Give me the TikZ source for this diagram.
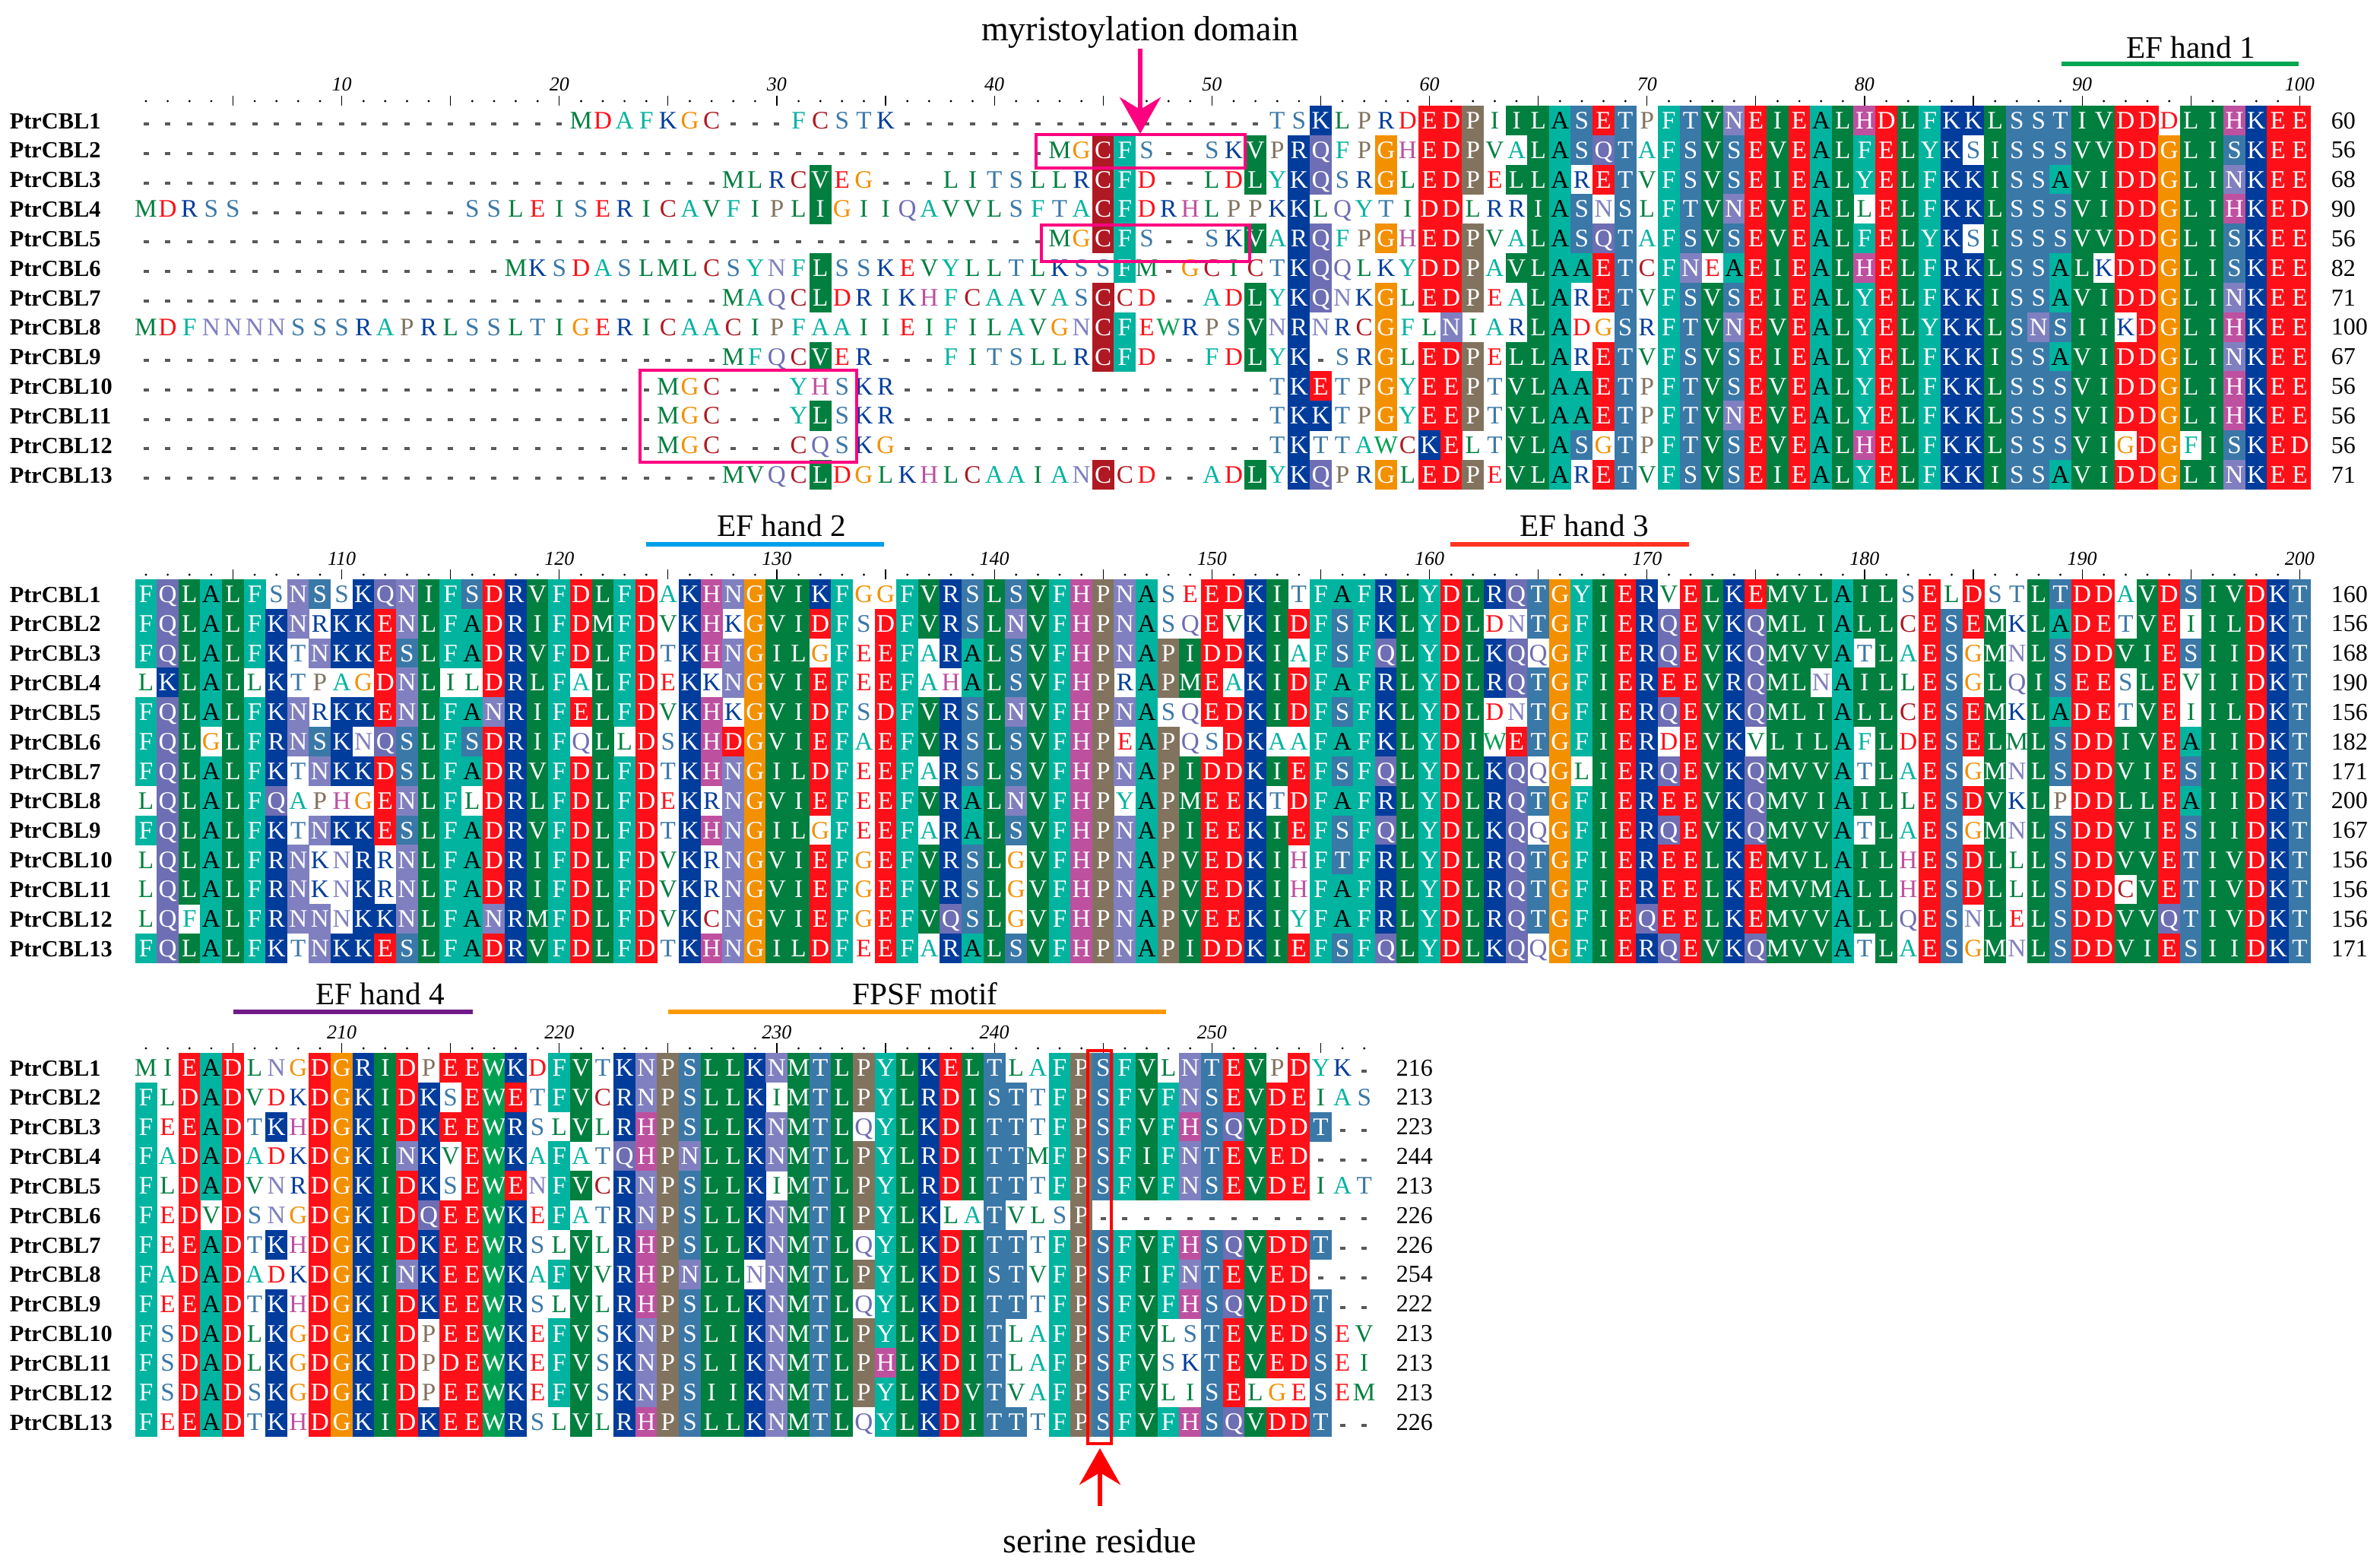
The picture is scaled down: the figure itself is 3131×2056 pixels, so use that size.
\documentclass[tikz,border=0pt]{standalone}
\usepackage{fontspec}
\setmainfont{Liberation Serif}
\usetikzlibrary{arrows.meta}

% residue colours
\definecolor{hydgreen}{HTML}{007F3F}
\definecolor{trpgreen}{HTML}{00A050}
\definecolor{aroteal}{HTML}{00B4A0}
\definecolor{polsteel}{HTML}{3A78A8}
\definecolor{basblue}{HTML}{003C9C}
\definecolor{acidred}{HTML}{FF1018}
\definecolor{glyorange}{HTML}{F39000}
\definecolor{cysred}{HTML}{AF1923}
\definecolor{asnlav}{HTML}{8080C0}
\definecolor{glnpurple}{HTML}{6E6EB4}
\definecolor{hismag}{HTML}{BE50A0}
\definecolor{probrown}{HTML}{82735F}
% annotation colours
\definecolor{myrpink}{HTML}{FF0080}
\definecolor{serred}{HTML}{FF0000}
\definecolor{efgreen}{HTML}{00A651}
\definecolor{efblue}{HTML}{00A0E9}
\definecolor{efred}{HTML}{FF3322}
\definecolor{efpurple}{HTML}{701A8A}
\definecolor{fpsforange}{HTML}{FF9900}

\def\rescolour#1#2{\colorlet{res#1}{#2}\lowercase{\colorlet{res#1}}{#2}}
\rescolour{A}{aroteal}\rescolour{F}{aroteal}\rescolour{Y}{aroteal}
\rescolour{L}{hydgreen}\rescolour{I}{hydgreen}\rescolour{V}{hydgreen}\rescolour{M}{hydgreen}
\rescolour{W}{trpgreen}
\rescolour{S}{polsteel}\rescolour{T}{polsteel}
\rescolour{K}{basblue}\rescolour{R}{basblue}
\rescolour{D}{acidred}\rescolour{E}{acidred}
\rescolour{G}{glyorange}\rescolour{C}{cysred}
\rescolour{N}{asnlav}\rescolour{Q}{glnpurple}
\rescolour{H}{hismag}\rescolour{P}{probrown}

% upper case = shaded cell, lower case = coloured letter, - = gap
\makeatletter
\newcount\res@col
\def\dashes#1{\ifnum#1>0 -\expandafter\dashes\expandafter{\the\numexpr#1-1\relax}\fi}
\newcommand\seqline[4]{%
  \res@col=0
  \pgfmathsetmacro\rowtop{#1+(#3-1)*38.85}%
  \def\res@tag{#2-#3}%
  \edef\res@str{#4}%
  \expandafter\res@next\res@str\relax}
\def\res@next#1{\ifx#1\relax\else\advance\res@col by 1 \res@draw{#1}\expandafter\res@next\fi}
\def\res@draw#1{%
  \pgfmathsetmacro\resx{192+(\the\res@col-1)*28.62}%
  \ifnum`#1=45
    \fill[gapmark] (\resx-3.5,\rowtop+22) rectangle (\resx+3.5,\rowtop+26);%
  \else
    \ifnum`#1<91
      \fill[res#1] (\resx-14.5,\rowtop-0.2) rectangle (\resx+14.5,\rowtop+39.05);%
      \if#1A\def\res@ink{black}\else\def\res@ink{white}\fi
      \node[residue,text=\res@ink] (r\res@tag-\the\res@col) at (\resx,\rowtop+30.4) {#1};%
    \else
      \node[residue,text=res#1] (r\res@tag-\the\res@col) at (\resx,\rowtop+30.4) {\uppercase{#1}};%
    \fi
  \fi}
\makeatother

\newcommand\seqruler[3]{%
  \foreach \cc in {1,...,#3}{%
    \pgfmathsetmacro\tx{192+(\cc-1)*28.62}%
    \pgfmathtruncatemacro\tfive{mod(\cc,5)}%
    \pgfmathtruncatemacro\tten{mod(\cc,10)}%
    \ifnum\tfive=0 \draw[rulertick] (\tx,#1-13) -- (\tx,#1);\else\fill (\tx,#1-6) circle[radius=0.4pt];\fi
    \ifnum\tten=0 \pgfmathtruncatemacro\tnum{#2+\cc}\node[rulernum] (tick\tnum) at (\tx,#1-19) {\tnum};\fi
  }}

\begin{document}
\begin{tikzpicture}[x=0.25pt,y=-0.25pt,
  residue/.style={inner sep=0pt,anchor=base,font=\fontsize{8.3}{9}\selectfont},
  gapmark/.style={fill=black!65},
  seqname/.style={inner sep=0pt,anchor=base west,font=\fontsize{7.6}{8}\selectfont\bfseries},
  seqend/.style={inner sep=0pt,anchor=base west,font=\fontsize{8}{9}\selectfont},
  rulernum/.style={inner sep=0pt,anchor=base,font=\fontsize{6.5}{7}\selectfont\itshape},
  rulertick/.style={line width=0.3pt},
  annot/.style={inner sep=0pt,anchor=base,font=\fontsize{10.3}{12}\selectfont},
  bigannot/.style={inner sep=0pt,anchor=base,font=\fontsize{11.5}{13}\selectfont},
  domainbar/.style={line width=1.5pt},
  motifbox/.style={draw=myrpink,line width=1pt},
  serbox/.style={draw=serred,line width=1.2pt},
  myrarrow/.style={draw=myrpink,line width=1.3pt,-{Stealth[length=12pt,width=13.5pt,inset=4pt]}},
  serarrow/.style={draw=serred,line width=1.3pt,-{Stealth[length=12pt,width=13.5pt,inset=4pt]}}]

\fill[white] (0,0) rectangle (3131,2056);
\useasboundingbox (0,0) rectangle (3131,2056);

%%%%%%%%%%%%%%%%%%%%%% BLOCK 1 %%%%%%%%%%%%%%%%%%%%%%
\seqruler{139}{0}{100}
\seqline{139}{1}{1}{\dashes{20}mdafkgc\dashes{3}fcstk\dashes{17}tsKlprdEDPiILASETpFTVNEIEALHDLFKKLSSTIVDDdLIHKEE}
\seqline{139}{1}{2}{\dashes{42}mgCFs\dashes{2}skVpRQfpGhEDPvaLASQTaFSVSEVEALFELYKsISSSVVDDGLISKEE}
\seqline{139}{1}{3}{\dashes{27}mlrcVeg\dashes{3}litsllrCFd\dashes{2}ldLyKQsrGlEDPeLLArETvFSVSEIEALYELFKKISSAVIDDGLINKEE}
\seqline{139}{1}{4}{mdrss\dashes{10}ssleisericavfiplIgiiqavvlsftaCFdrhlppkKlqytiDDlrrIASnSlFTVNEVEALlELFKKLSSSVIDDGLIHKED}
\seqline{139}{1}{5}{\dashes{42}mgCFs\dashes{2}skVaRQfpGhEDPvaLASQTaFSVSEVEALFELYKsISSSVVDDGLISKEE}
\seqline{139}{1}{6}{\dashes{17}mksdaslmlcsynfLsskevylltlkssFm-gcictKQqlkyDDPaVLAAETcFNeAEIEALHELFRKLSSALkDDGLISKEE}
\seqline{139}{1}{7}{\dashes{27}maqcLdrikhfcaavasCcd\dashes{2}adLyKQnkGlEDPeaLArETvFSVSEIEALYELFKKISSAVIDDGLINKEE}
\seqline{139}{1}{8}{mdfnnnnsssraprlssltigericaacipfaaiieifilavgnCFewrpsVnRnrcGflNiarLAdgSrFTVNEVEALYELYKKLSNSIIkDGLIHKEE}
\seqline{139}{1}{9}{\dashes{27}mfqcVer\dashes{3}fitsllrCFd\dashes{2}fdLyK-srGlEDPeLLArETvFSVSEIEALYELFKKISSAVIDDGLINKEE}
\seqline{139}{1}{10}{\dashes{24}mgc\dashes{3}yhskr\dashes{17}tKEtpGyEEPtVLAAETpFTVSEVEALYELFKKLSSSVIDDGLIHKEE}
\seqline{139}{1}{11}{\dashes{24}mgc\dashes{3}yLskr\dashes{17}tKKtpGyEEPtVLAAETpFTVNEVEALYELFKKLSSSVIDDGLIHKEE}
\seqline{139}{1}{12}{\dashes{24}mgc\dashes{3}cqskg\dashes{17}tKttawcKEltVLASgTpFTVSEVEALHELFKKLSSSVIgDGfISKED}
\seqline{139}{1}{13}{\dashes{27}mvqcLdglkhlcaaianCcd\dashes{2}adLyKQprGlEDPeVLArETvFSVSEIEALYELFKKISSAVIDDGLINKEE}
\foreach \v [count=\rw] in {60,56,68,90,56,82,71,100,67,56,56,56,71}
  \node[seqend] (endA\rw) at (3066,{139+(\rw-1)*38.85+30}) {\v};

%%%%%%%%%%%%%%%%%%%%%% BLOCK 2 %%%%%%%%%%%%%%%%%%%%%%
\seqruler{762}{100}{100}
\seqline{762}{2}{1}{FQLALFsNSsKQNIFSDRVFDLFDaKHNGVI KFggFVRSLSVFHPNAseEDKItFAFRLYDLRQTG YIERvELKEMVLAILsElDstLTDDaVDSIVDKT}
\seqline{762}{2}{2}{FQLALFKNrKKENLFADRIFDMFDvKHkGVI DFsDFVRSLNVFHPNAsqEvKIDFSFKLYDLdnTG FIERQEVKQMLIALLcESEMkLADEtVEiILDKT}
\seqline{762}{2}{3}{FQLALFKtNKKESLFADRVFDLFDtKHNGIL gFeEFaRALSVFHPNAPIDDKIaFSFQLYDLKQqG FIERQEVKQMVVAtLaESgMnLSDDVIESIIDKT}
\seqline{762}{2}{4}{lKLALlKtpagDNLilDRLFaLFDeKkNGVI EFeEFahALSVFHPrAPMEaKIDFAFRLYDLRQTG FIEREEVRQMLnAILlESgLqISEEsLEvIIDKT}
\seqline{762}{2}{5}{FQLALFKNrKKENLFANRIFELFDvKHkGVI DFsDFVRSLNVFHPNAsqEDKIDFSFKLYDLdnTG FIERQEVKQMLIALLcESEMkLADEtVEiILDKT}
\seqline{762}{2}{6}{FQLgLFRNSKnQSLFSDRIFqLlDsKHDGVI EFaEFVRSLSVFHPeAPqsDKaaFAFKLYDIwETG FIERdEVKvLILAfLdESELmLSDDIVEAIIDKT}
\seqline{762}{2}{7}{FQLALFKtNKKDSLFADRVFDLFDtKHNGIL DFeEFaRSLSVFHPNAPIDDKIEFSFQLYDLKQqG lIERQEVKQMVVAtLaESgMnLSDDVIESIIDKT}
\seqline{762}{2}{8}{lQLALFQaphgENLFlDRLFDLFDeKrNGVI EFeEFVRALNVFHPyAPMEEKtDFAFRLYDLRQTG FIEREEVKQMVIAILlESDVkLpDDLLEAIIDKT}
\seqline{762}{2}{9}{FQLALFKtNKKESLFADRVFDLFDtKHNGIL gFeEFaRALSVFHPNAPIEEKIEFSFQLYDLKQqG FIERQEVKQMVVAtLaESgMnLSDDVIESIIDKT}
\seqline{762}{2}{10}{lQLALFRNknRrNLFADRIFDLFDvKrNGVI EFgEFVRSLgVFHPNAPVEDKIhFTFRLYDLRQTG FIEREELKEMVLAILhESDLlLSDDVVETIVDKT}
\seqline{762}{2}{11}{lQLALFRNknKrNLFADRIFDLFDvKrNGVI EFgEFVRSLgVFHPNAPVEDKIhFAFRLYDLRQTG FIEREELKEMVMALLhESDLlLSDDcVETIVDKT}
\seqline{762}{2}{12}{lQfALFRNNnKKNLFANRMFDLFDvKcNGVI EFgEFVQSLgVFHPNAPVEEKIyFAFRLYDLRQTG FIEQEELKEMVVALLqESnLeLSDDVVQTIVDKT}
\seqline{762}{2}{13}{FQLALFKtNKKESLFADRVFDLFDtKHNGIL DFeEFaRALSVFHPNAPIDDKIEFSFQLYDLKQqG FIERQEVKQMVVAtLaESgMnLSDDVIESIIDKT}
\foreach \v [count=\rw] in {160,156,168,190,156,182,171,200,167,156,156,156,171}
  \node[seqend] (endB\rw) at (3066,{762+(\rw-1)*38.85+30}) {\v};

%%%%%%%%%%%%%%%%%%%%%% BLOCK 3 %%%%%%%%%%%%%%%%%%%%%%
\seqruler{1385}{200}{57}
\seqline{1385}{3}{1}{miEADlngDGRIDpEEWKdFVtKNPSLLKNMTLPYLKELTlaFPSFVlNTEVpDyk-}
\seqline{1385}{3}{2}{FlDADvdkDGKIDKsEWEtFVcRNPSLLKiMTLPYLRDISTtFPSFVFNSEVDEias}
\seqline{1385}{3}{3}{FeEADtKhDGKIDKEEWRslVlRHPSLLKNMTLqYLKDITTtFPSFVFHSQVDDT--}
\seqline{1385}{3}{4}{FaDADadkDGKINKvEWKaFatQHPNLLKNMTLPYLRDITTmFPSFIFNTEVED---}
\seqline{1385}{3}{5}{FlDADvnrDGKIDKsEWEnFVcRNPSLLKiMTLPYLRDITTtFPSFVFNSEVDEiat}
\seqline{1385}{3}{6}{FeDvDsngDGKIDQEEWKeFatRNPSLLKNMTIPYLKlaTvlsP\dashes{13}}
\seqline{1385}{3}{7}{FeEADtKhDGKIDKEEWRslVlRHPSLLKNMTLqYLKDITTtFPSFVFHSQVDDT--}
\seqline{1385}{3}{8}{FaDADadkDGKINKEEWKaFVvRHPNLLnNMTLPYLKDISTvFPSFIFNTEVED---}
\seqline{1385}{3}{9}{FeEADtKhDGKIDKEEWRslVlRHPSLLKNMTLqYLKDITTtFPSFVFHSQVDDT--}
\seqline{1385}{3}{10}{FsDADlKgDGKIDpEEWKeFVsKNPSLIKNMTLPYLKDITlaFPSFVlsTEVEDSev}
\seqline{1385}{3}{11}{FsDADlKgDGKIDpDEWKeFVsKNPSLIKNMTLPHLKDITlaFPSFVskTEVEDSei}
\seqline{1385}{3}{12}{FsDADsKgDGKIDpEEWKeFVsKNPSIIKNMTLPYLKDVTvaFPSFVliSElgeSem}
\seqline{1385}{3}{13}{FeEADtKhDGKIDKEEWRslVlRHPSLLKNMTLqYLKDITTtFPSFVFHSQVDDT--}
\foreach \v [count=\rw] in {216,213,223,244,213,226,226,254,222,213,213,213,226}
  \node[seqend] (endC\rw) at (1836,{1385+(\rw-1)*38.85+30}) {\v};

% sequence names
\foreach \blk/\btop in {1/139,2/762,3/1385}
  \foreach \rw in {1,...,13}
    \node[seqname] (name\blk-\rw) at (12,{\btop+(\rw-1)*38.85+30}) {PtrCBL\rw};

% domains
\node[annot] (efone) at (2882,77) {EF hand 1};
\draw[domainbar,efgreen] (2712,84) -- (3024,84);
\node[annot] (eftwo) at (1028,705) {EF hand 2};
\draw[domainbar,efblue] (850,716) -- (1163,716);
\node[annot] (efthree) at (2084,705) {EF hand 3};
\draw[domainbar,efred] (1908,716) -- (2222,716);
\node[annot] (effour) at (500,1321) {EF hand 4};
\draw[domainbar,efpurple] (307,1331) -- (622,1331);
\node[annot] (fpsf) at (1217,1321) {FPSF motif};
\draw[domainbar,fpsforange] (879,1331) -- (1534,1331);

% myristoylation sites
\draw[motifbox] (1363,177) rectangle (1638,221);
\draw[motifbox] (1370,296) rectangle (1644,344);
\draw[motifbox] (842,487) rectangle (1127,608);
\node[bigannot] (myr) at (1500,53) {myristoylation domain};
\coordinate (myrtip) at (1500,176);
\draw[myrarrow] (myr.south) -- (myrtip);

% conserved serine
\draw[serbox] (1431,1382) rectangle (1462,1899);
\node[bigannot] (ser) at (1447,2042) {serine residue};
\coordinate (sertip) at (1447,1905);
\draw[serarrow,shorten <=7pt] (ser.north) -- (sertip);

\end{tikzpicture}
\end{document}
